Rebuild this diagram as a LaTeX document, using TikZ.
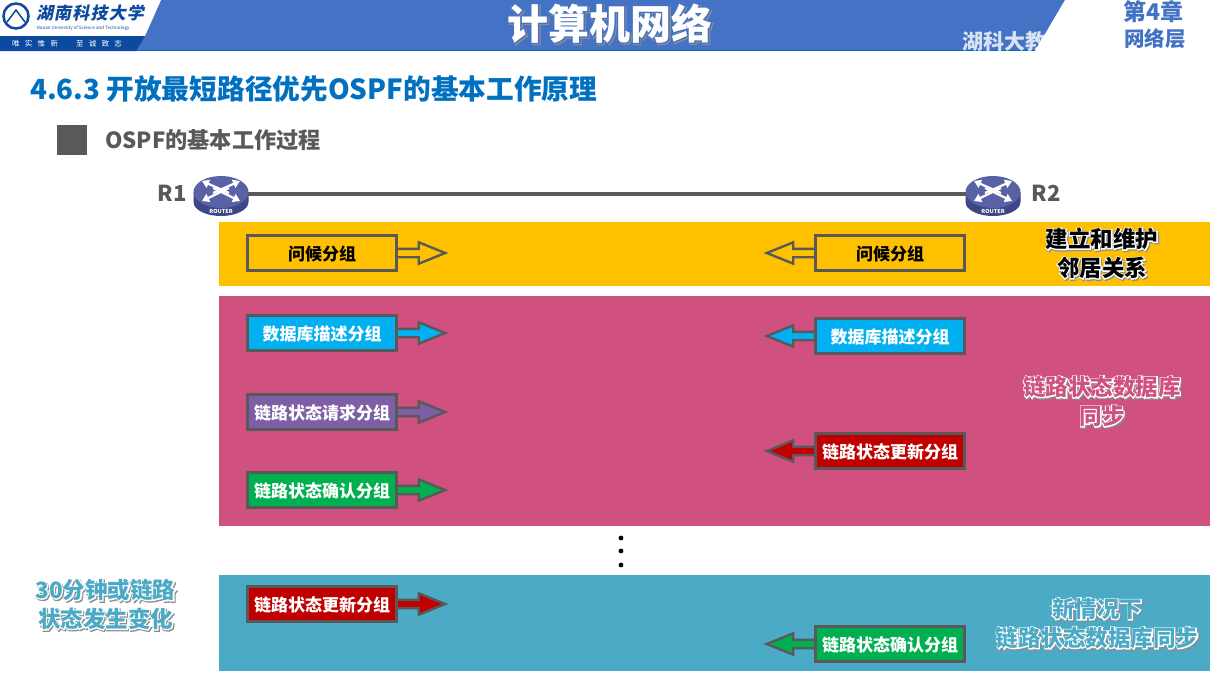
\documentclass[tikz,border=0pt]{standalone}
\usepackage{fontspec}
\setmainfont{Noto Sans CJK SC}
\usetikzlibrary{arrows.meta,positioning,shapes.geometric,shapes.arrows,calc}
\definecolor{HeadBlue}{HTML}{4472C4}
\definecolor{HeadDark}{HTML}{0B4A9E}
\definecolor{TitleBlue}{HTML}{0070C0}
\definecolor{PktGray}{HTML}{595959}
\definecolor{BandYellow}{HTML}{FFC000}
\definecolor{BandPink}{HTML}{D0507F}
\definecolor{BandTeal}{HTML}{4BAAC6}
\definecolor{PktCyan}{HTML}{00B0F0}
\definecolor{PktPurple}{HTML}{7E5FA6}
\definecolor{PktGreen}{HTML}{00B050}
\definecolor{PktRed}{HTML}{C00000}
\definecolor{RouterTop}{HTML}{5A62A6}
\definecolor{RouterBase}{HTML}{3F4685}
% text with a shadow and a rim
\newcommand{\rimtext}[2][white]{\rlap{\kern1pt\raisebox{-1.2pt}{\color{black!45}\special{pdf:code q 2.2 w 2 Tr}#2\special{pdf:code Q}}}\rlap{\color{#1}\special{pdf:code q 2 w 2 Tr}#2\special{pdf:code Q}}#2}
\tikzset{
  pktbox/.style={draw=PktGray, line width=2.6pt, minimum width=149pt, minimum height=35pt, inner sep=0pt, text height=15pt, text depth=1pt, font=\fontsize{17}{17}\selectfont\bfseries, text=white},
  pktarrow/.style={single arrow, draw=PktGray, line width=2.4pt, minimum height=50pt, minimum width=20pt, inner sep=3pt, single arrow head extend=6.5pt, single arrow tip angle=44, single arrow head indent=0pt},
  bandlabel/.style={font=\fontsize{22.5}{29}\selectfont\bfseries, align=center},
  routertop/.style={ellipse, fill=RouterTop, minimum width=55pt, minimum height=32pt, inner sep=0pt},
  routerpic/.pic={
    \fill[RouterBase] (-27.5,-2) -- (-27.5,8) arc[start angle=180, end angle=0, x radius=27.5, y radius=14] -- (27.5,-2) -- cycle;
    \node[routertop] (top) at (0,-2) {};
    \coordinate (west) at (-27,0);
    \coordinate (east) at (27,0);
    \foreach \sx in {-1,1} {
      \draw[white, line width=2.2pt, -{Triangle[length=7pt,width=8.5pt]}] (\sx*8,-1) -- (-\sx*19,-13);
      \draw[white, line width=2.2pt, -{Triangle[length=7pt,width=8.5pt]}] (\sx*8,-6) -- (-\sx*19,7);
    }
    \node[text=white, font=\fontsize{5.5}{6}\selectfont\bfseries, inner sep=0pt] (tag) at (0,17) {ROUTER};
  }
}
\begin{document}
\begin{tikzpicture}[x=1pt, y=-1pt]
\useasboundingbox (0,0) rectangle (1230,686);
\fill[white] (0,0) rectangle (1230,686);

% Header bar
\fill[HeadBlue] (0,0) rectangle (1230,50);
\fill[TitleBlue] (0,50) rectangle (1230,51);
\fill[white] (0,0) -- (161,0) -- (145,36) -- (0,36) -- cycle;
\fill[HeadDark] (0,36) -- (145,36) -- (136,51) -- (0,51) -- cycle;
\fill[white] (1065,0) -- (1230,0) -- (1230,51) -- (1035,51) -- cycle;
\draw[HeadDark, line width=2.5pt] (16,16) circle[radius=12.5];
\draw[HeadDark, line width=1.5pt] (7,22) -- (16,10) -- (25,22);
\node[text=HeadDark, font=\fontsize{17}{17}\selectfont\bfseries\addfontfeature{LetterSpace=7,FakeSlant=0.2}, inner sep=0pt] (school) at (90,13) {湖南科技大学};
\node[text=HeadDark, font=\fontsize{4.5}{5}\selectfont, inner sep=0pt] (schooleng) at (83,28) {Hunan University of Science and Technology};
\node[text=white, font=\fontsize{7.5}{8}\selectfont\addfontfeature{LetterSpace=70}, inner sep=0pt] (motto) at (67,44) {唯实惟新\hspace{18pt}至诚致志};
\node[text=white, font=\fontsize{41}{41}\selectfont\bfseries, inner sep=0pt] (title) at (610,24) {\rimtext[HeadBlue]{计算机网络}};
\node[text=HeadBlue, font=\fontsize{23}{23}\selectfont\bfseries, inner sep=0pt] (chapter) at (1153,12) {第4章};
\node[text=HeadBlue, font=\fontsize{20.5}{21}\selectfont\bfseries, inner sep=0pt] (layer) at (1155,39) {网络层};
\node[text=white, font=\fontsize{21}{21}\selectfont\bfseries, inner sep=0pt, anchor=west, opacity=0.8] (mark) at (962,42) {湖科大教书匠};

% Headings
\node[text=TitleBlue, font=\fontsize{27.7}{28}\selectfont\bfseries, inner sep=0pt, anchor=west] (sect) at (30,89) {4.6.3 开放最短路径优先OSPF的基本工作原理};
\fill[PktGray] (57,125) rectangle (87,155);
\node[text=PktGray, font=\fontsize{22.2}{24}\selectfont\bfseries, inner sep=0pt, anchor=west] (sub) at (105,140) {OSPF的基本工作过程};

% Bands
\fill[BandYellow] (219,222) rectangle (1210,286);
\fill[BandPink] (219,296) rectangle (1210,526);
\fill[BandTeal] (219,575) rectangle (1210,671);

% Routers
\pic (ra) at (221,194) {routerpic};
\pic (rb) at (993,194) {routerpic};
\draw[PktGray, line width=3.2pt] (raeast) -- (rbwest);
\node[text=PktGray, font=\fontsize{22}{23}\selectfont\bfseries, inner sep=0pt] (rla) at (172,193) {R1};
\node[text=PktGray, font=\fontsize{22}{23}\selectfont\bfseries, inner sep=0pt] (rlb) at (1046,193) {R2};

% Packets from R1
\foreach \nm/\yy/\col/\txt in {
  pa/333/PktCyan/数据库描述分组,
  pb/412/PktPurple/链路状态请求分组,
  pc/490/PktGreen/链路状态确认分组,
  pd/604/PktRed/链路状态更新分组} {
  \node[pktarrow, fill=\col, anchor=west] (\nm arrow) at (394,\yy) {};
  \node[pktbox, fill=\col] (\nm) at (322,\yy) {\txt};
}
\node[pktarrow, fill=BandYellow, anchor=west] (helloarrow) at (394,253) {};
\node[pktbox, fill=BandYellow, text=black] (hello) at (322,253) {问候分组};

% Packets from R2
\foreach \nm/\yy/\col/\txt in {
  qa/336/PktCyan/数据库描述分组,
  qb/451/PktRed/链路状态更新分组,
  qc/644/PktGreen/链路状态确认分组} {
  \node[pktarrow, fill=\col, shape border rotate=180, anchor=east] (\nm arrow) at (818,\yy) {};
  \node[pktbox, fill=\col] (\nm) at (890,\yy) {\txt};
}
\node[pktarrow, fill=BandYellow, shape border rotate=180, anchor=east] (byearrow) at (818,253) {};
\node[pktbox, fill=BandYellow, text=black] (bye) at (890,253) {问候分组};

% Dots
\foreach \yy in {538,551,565} \fill[black] (621,\yy) circle[radius=2.4];

% Band labels
\node[bandlabel, text=black] (lblyellow) at (1102,254) {\rimtext{建立和维护}\\\rimtext{邻居关系}};
\node[bandlabel, text=BandPink] (lblpink) at (1102,402) {\rimtext{链路状态数据库}\\\rimtext{同步}};
\node[bandlabel, text=BandTeal] (lblteal) at (1097,624) {\rimtext{新情况下}\\\rimtext{链路状态数据库同步}};
\node[bandlabel, text=BandTeal] (lbltime) at (105.5,605) {\rimtext{30分钟或链路}\\\rimtext{状态发生变化}};
\end{tikzpicture}
\end{document}
